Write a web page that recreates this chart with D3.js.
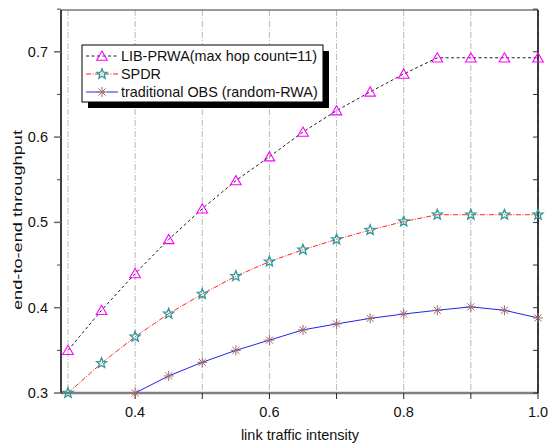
<!DOCTYPE html>
<html><head><meta charset="utf-8">
<script src="https://cdn.jsdelivr.net/npm/d3@7"></script>
<style>body{margin:0;background:#fff}text{font-family:"Liberation Sans",Arial,sans-serif}</style>
</head><body><svg id="c" width="549" height="446"></svg>
<script>
const xs = [0.3,0.35,0.4,0.45,0.5,0.55,0.6,0.65,0.7,0.75,0.8,0.85,0.9,0.95,1.0];
const libPrwa = [0.350,0.397,0.440,0.480,0.516,0.549,0.577,0.606,0.631,0.653,0.674,0.693,0.693,0.693,0.693];
const spdr = [0.300,0.335,0.366,0.393,0.416,0.437,0.454,0.468,0.480,0.491,0.501,0.509,0.509,0.509,0.509];
const obsX = [0.4,0.45,0.5,0.55,0.6,0.65,0.7,0.75,0.8,0.85,0.9,0.95,1.0];
const obs = [0.300,0.320,0.336,0.350,0.362,0.374,0.381,0.3875,0.3926,0.397,0.401,0.397,0.388];
const xTicks = [0.3,0.4,0.5,0.6,0.7,0.8,0.9,1.0];
const xLabels = [0.4,0.6,0.8,1.0];
const yTicks = [0.3,0.4,0.5,0.6,0.7];
const yMinor = [0.35,0.45,0.55,0.65,0.75];
const names = ["LIB-PRWA(max hop count=11)","SPDR","traditional OBS (random-RWA)"];

const svg = d3.select("#c");
const L=61,R=538,T=10,B=393;
const x = d3.scaleLinear().domain([0.2896,1.0]).range([L,R]);
const y = d3.scaleLinear().domain([0.3,0.749]).range([B,T]);

// grid
svg.append("g").selectAll("line").data(xTicks).join("line")
  .attr("x1",d=>x(d)).attr("x2",d=>x(d)).attr("y1",T).attr("y2",B)
  .attr("stroke",d=>d===0.3?"#ddd":"#b8b8b8").attr("stroke-width",d=>d===0.3?2:1)
  .attr("stroke-dasharray","6,2,1,2");

// axes
const ax = svg.append("g");
ax.append("line").attr("x1",L).attr("x2",R).attr("y1",T).attr("y2",T).attr("stroke","#777").attr("stroke-width",1.5);
ax.append("line").attr("x1",L).attr("x2",R).attr("y1",B).attr("y2",B).attr("stroke","#808080").attr("stroke-width",2.5);
ax.append("line").attr("x1",L).attr("x2",L).attr("y1",T).attr("y2",B).attr("stroke","#000").attr("stroke-width",1.5);
ax.append("line").attr("x1",R).attr("x2",R).attr("y1",T).attr("y2",B).attr("stroke","#000").attr("stroke-width",1.5);

ax.selectAll(".yt").data(yTicks).join("line").attr("class","yt").attr("x1",L-7).attr("x2",L).attr("y1",d=>y(d)).attr("y2",d=>y(d)).attr("stroke","#666").attr("stroke-width",1.5);
ax.selectAll(".ym").data(yMinor).join("line").attr("class","ym").attr("x1",L-4).attr("x2",L).attr("y1",d=>y(d)).attr("y2",d=>y(d)).attr("stroke","#444").attr("stroke-width",1);
ax.selectAll(".yr").data(yTicks.concat(yMinor)).join("line").attr("class","yr").attr("x1",R-5).attr("x2",R).attr("y1",d=>y(d)).attr("y2",d=>y(d)).attr("stroke","#333").attr("stroke-width",1);
ax.selectAll(".ytl").data(yTicks).join("text").attr("class","ytl").attr("x",L-13).attr("y",d=>y(d)+5)
  .attr("text-anchor","end").attr("font-size",14.5).attr("fill","#111").text(d=>d.toFixed(1));
ax.selectAll(".xt").data(xTicks.filter(d=>d>0.35)).join("line").attr("class","xt").attr("x1",d=>x(d)).attr("x2",d=>x(d)).attr("y1",B).attr("y2",B+6).attr("stroke","#222").attr("stroke-width",1);
ax.selectAll(".xtl").data(xLabels).join("text").attr("class","xtl").attr("x",d=>x(d)).attr("y",B+24)
  .attr("text-anchor","middle").attr("font-size",14.5).attr("fill","#111").text(d=>d.toFixed(1));

svg.append("text").attr("x",300).attr("y",440).attr("text-anchor","middle").attr("font-size",14.5).attr("fill","#111").text("link traffic intensity");
svg.append("text").attr("transform","translate(22,220) rotate(-90)").attr("text-anchor","middle").attr("font-size",12.5)
  .attr("textLength",180).attr("lengthAdjust","spacingAndGlyphs").attr("fill","#111").text("end-to-end throughput");

const line = d3.line().x(d=>x(d[0])).y(d=>y(d[1]));
const s1 = xs.map((v,i)=>[v,libPrwa[i]]);
const s2 = xs.map((v,i)=>[v,spdr[i]]);
const s3 = obsX.map((v,i)=>[v,obs[i]]);

const styles = [
  {stroke:"#222",dash:"3,2.5",w:1},
  {stroke:"#f22",dash:"5,1.5,1,1.5",w:1},
  {stroke:"#22e",dash:null,w:1}
];
[s1,s2,s3].forEach((s,i)=>{
  svg.append("path").datum(s).attr("d",line).attr("fill","none").attr("stroke",styles[i].stroke)
    .attr("stroke-width",styles[i].w).attr("stroke-dasharray",styles[i].dash);
});

function tri(g){g.append("path").attr("d","M0,-5L5.3,4.2L-5.3,4.2Z").attr("fill","none").attr("stroke","#f0f").attr("stroke-width",1.1);}
function star(g){
  const pts=[];for(let k=0;k<10;k++){const r=k%2?2.3:5.3;const a=-Math.PI/2+k*Math.PI/5;pts.push([r*Math.cos(a),r*Math.sin(a)]);}
  g.append("path").attr("d","M"+pts.join("L")+"Z").attr("fill","none").attr("stroke","#2a9a9a").attr("stroke-width",1.3);
}
function ast(g){
  for(let k=0;k<4;k++){const a=k*Math.PI/4;g.append("line").attr("x1",-5*Math.cos(a)).attr("y1",-5*Math.sin(a)).attr("x2",5*Math.cos(a)).attr("y2",5*Math.sin(a)).attr("stroke","#a06868").attr("stroke-width",1);}
}
const marks=[tri,star,ast];
[s1,s2,s3].forEach((s,i)=>{
  svg.append("g").selectAll("g").data(s).join("g").attr("transform",d=>`translate(${x(d[0])},${y(d[1])})`).each(function(){marks[i](d3.select(this));});
});

// legend
const lg = svg.append("g");
const lx=82,ly=45,lw=241,lh=57;
lg.append("rect").attr("x",lx+6).attr("y",ly+6).attr("width",lw).attr("height",lh).attr("fill","#000");
lg.append("rect").attr("x",lx).attr("y",ly).attr("width",lw).attr("height",lh).attr("fill","#fff").attr("stroke","#000").attr("stroke-width",1);
names.forEach((n,i)=>{
  const yy=ly+11+i*18;
  lg.append("line").attr("x1",lx+4).attr("x2",lx+36).attr("y1",yy).attr("y2",yy).attr("stroke",styles[i].stroke).attr("stroke-width",1)
    .attr("stroke-dasharray",i===2?"14,2,3,2":styles[i].dash);
  const g=lg.append("g").attr("transform",`translate(${lx+20},${yy})`);marks[i](g);
  lg.append("text").attr("x",lx+39).attr("y",yy+5).attr("font-size",14.4).attr("fill","#111").text(n);
});
</script></body></html>
